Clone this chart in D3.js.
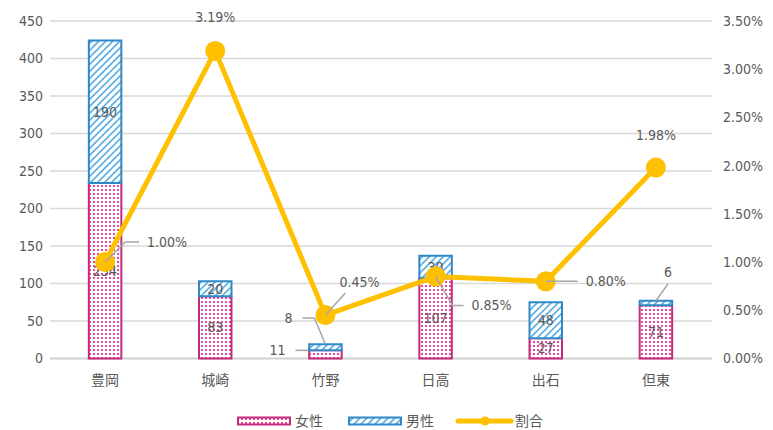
<!DOCTYPE html>
<html>
<head>
<meta charset="utf-8">
<script src="https://cdn.jsdelivr.net/npm/d3@7"></script>
<style>
  body { margin: 0; background: #fff; }
  text { font-family: "DejaVu Sans Condensed", "Noto Sans CJK JP", sans-serif; fill: #595959; }
</style>
</head>
<body>
<div id="chart"></div>
<script>
// data
var categories = ["豊岡", "城崎", "竹野", "日高", "出石", "但東"];
var female = [234, 83, 11, 107, 27, 71];
var male = [190, 20, 8, 30, 48, 6];
var ratio = [0.0100, 0.0319, 0.0045, 0.0085, 0.0080, 0.0198];
var leftTicks = [0, 50, 100, 150, 200, 250, 300, 350, 400, 450];
var rightTicks = [0, 0.005, 0.01, 0.015, 0.02, 0.025, 0.03, 0.035];

var svgWidth = 773;
var svgHeight = 430;

var svg = d3.select("#chart")
  .append("svg")
  .attr("width", svgWidth)
  .attr("height", svgHeight);

// patterns
var defs = svg.append("defs");
var dots = defs.append("pattern")
  .attr("id", "dots")
  .attr("patternUnits", "userSpaceOnUse")
  .attr("width", 4).attr("height", 4);
dots.append("rect").attr("width", 4).attr("height", 4).attr("fill", "#fff");
dots.append("rect").attr("x", 1).attr("y", 1).attr("width", 2).attr("height", 2).attr("fill", "#E54B9E");

var hatch = defs.append("pattern")
  .attr("id", "hatch")
  .attr("patternUnits", "userSpaceOnUse")
  .attr("width", 7).attr("height", 7);
hatch.append("rect").attr("width", 7).attr("height", 7).attr("fill", "#fff");
hatch.append("path")
  .attr("d", "M0,7 L7,0 M-1,1 L1,-1 M6,8 L8,6")
  .attr("stroke", "#5DAFE3")
  .attr("stroke-width", 1.6);

// scales
var x = d3.scaleBand().domain(categories).range([50, 711]);
var yLeft = d3.scaleLinear().domain([0, 450]).range([358.5, 21]);
var yRight = d3.scaleLinear().domain([0, 0.035]).range([358.5, 21]);
var barW = x.bandwidth() * 0.313;
var cx = function(c) { return x(c) + x.bandwidth() / 2; };

// gridlines
svg.append("g")
  .selectAll("line")
  .data(leftTicks.slice(1))
  .enter()
  .append("line")
  .attr("x1", 50).attr("x2", 712)
  .attr("y1", d => yLeft(d)).attr("y2", d => yLeft(d))
  .attr("stroke", "#d9d9d9")
  .attr("stroke-width", 1.5);

// axes
var leftAxis = d3.axisLeft(yLeft).tickValues(leftTicks).tickSize(0).tickPadding(0);
svg.append("g")
  .attr("transform", "translate(43,0)")
  .call(leftAxis)
  .call(g => g.select(".domain").remove())
  .selectAll("text")
  .style("font-size", "14px")
  .attr("fill", "#595959");

var rightAxis = d3.axisRight(yRight).tickValues(rightTicks).tickSize(0).tickPadding(0)
  .tickFormat(d3.format(".2%"));
svg.append("g")
  .attr("transform", "translate(723,0)")
  .call(rightAxis)
  .call(g => g.select(".domain").remove())
  .selectAll("text")
  .style("font-size", "14px")
  .attr("fill", "#595959");

svg.append("line")
  .attr("x1", 50).attr("x2", 712)
  .attr("y1", yLeft(0)).attr("y2", yLeft(0))
  .attr("stroke", "#d0d0d0")
  .attr("stroke-width", 2);

var bottomAxis = d3.axisBottom(x).tickSize(0).tickPadding(0);
svg.append("g")
  .attr("transform", "translate(0,375)")
  .call(bottomAxis)
  .call(g => g.select(".domain").remove())
  .selectAll("text")
  .style("font-size", "14px")
  .attr("fill", "#595959");

// bars
var barGroup = svg.append("g");
barGroup.selectAll(".female")
  .data(categories)
  .enter()
  .append("rect")
  .attr("x", d => cx(d) - barW / 2 + 1)
  .attr("y", (d, i) => yLeft(female[i]))
  .attr("width", barW - 2)
  .attr("height", (d, i) => yLeft(0) - yLeft(female[i]))
  .attr("fill", "url(#dots)")
  .attr("stroke", "#C42B7C")
  .attr("stroke-width", 2);

barGroup.selectAll(".male")
  .data(categories)
  .enter()
  .append("rect")
  .attr("x", d => cx(d) - barW / 2 + 1)
  .attr("y", (d, i) => yLeft(female[i] + male[i]))
  .attr("width", barW - 2)
  .attr("height", (d, i) => yLeft(female[i]) - yLeft(female[i] + male[i]))
  .attr("fill", "url(#hatch)")
  .attr("stroke", "#2E89C6")
  .attr("stroke-width", 2);

// bar labels (small ones are pushed out with leader lines)
var labelFont = "14px";
var leader = svg.append("g").attr("stroke", "#a6a6a6").attr("stroke-width", 1.5).attr("fill", "none");

categories.forEach(function(c, i) {
  var fMid = (yLeft(0) + yLeft(female[i])) / 2;
  var mMid = (yLeft(female[i]) + yLeft(female[i] + male[i])) / 2;
  var top = yLeft(female[i] + male[i]);
  var fx = cx(c), fy = fMid, mx = cx(c), my = mMid;
  if (c === "竹野") {
    fx = cx(c) - 48; fy = fMid - 4;
    leader.append("path").attr("d", `M${fx + 18},${fy} H${cx(c) - barW / 2}`);
    mx = cx(c) - 37; my = 318;
    leader.append("path").attr("d", `M${mx + 14},${my} H${mx + 26} L${cx(c)},${top}`);
  }
  if (c === "但東") {
    mx = cx(c) + 12; my = 272;
    leader.append("path").attr("d", `M${mx},${my + 12} L${cx(c)},${top}`);
  }
  svg.append("text")
    .attr("x", fx).attr("y", fy)
    .attr("dy", "0.35em")
    .attr("text-anchor", "middle")
    .style("font-size", labelFont)
    .text(female[i]);
  svg.append("text")
    .attr("x", mx).attr("y", my)
    .attr("dy", "0.35em")
    .attr("text-anchor", "middle")
    .style("font-size", labelFont)
    .text(male[i]);
});

// ratio line
var line = d3.line()
  .x((d, i) => cx(categories[i]))
  .y(d => yRight(d));

svg.append("path")
  .datum(ratio)
  .attr("d", line)
  .attr("fill", "none")
  .attr("stroke", "#FFC000")
  .attr("stroke-width", 5)
  .attr("stroke-linejoin", "round");

svg.append("g")
  .selectAll("circle")
  .data(ratio)
  .enter()
  .append("circle")
  .attr("cx", (d, i) => cx(categories[i]))
  .attr("cy", d => yRight(d))
  .attr("r", 10)
  .attr("fill", "#FFC000");

// ratio labels
var pct = d3.format(".2%");
var ratioLabelPos = [
  { dx: 42, dy: -20, anchor: "start" },
  { dx: 0, dy: -34, anchor: "middle" },
  { dx: 14, dy: -33, anchor: "start" },
  { dx: 36, dy: 29, anchor: "start" },
  { dx: 40, dy: 0, anchor: "start" },
  { dx: 0, dy: -32, anchor: "middle" }
];
ratio.forEach(function(v, i) {
  var px = cx(categories[i]), py = yRight(v), p = ratioLabelPos[i];
  if (i === 0) leader.append("path").attr("d", `M${px},${py} L${px + 20},${py + p.dy} H${px + p.dx - 8}`);
  if (i === 2) leader.append("path").attr("d", `M${px},${py} L${px + p.dx + 6},${py + p.dy + 11}`);
  if (i === 3) leader.append("path").attr("d", `M${px},${py} L${px + 17},${py + p.dy} H${px + p.dx - 8}`);
  if (i === 4) leader.append("path").attr("d", `M${px},${py} H${px + p.dx - 8}`);
  svg.append("text")
    .attr("x", px + p.dx).attr("y", py + p.dy)
    .attr("dy", "0.35em")
    .attr("text-anchor", p.anchor)
    .style("font-size", labelFont)
    .text(pct(v));
});
leader.raise();

// legend
var legend = svg.append("g").attr("transform", "translate(0,421)");
legend.append("rect").attr("x", 238).attr("y", -3.5).attr("width", 52).attr("height", 7)
  .attr("fill", "url(#dots)").attr("stroke", "#C42B7C").attr("stroke-width", 2);
legend.append("text").attr("x", 295).attr("dy", "0.35em").style("font-size", "14px").text("女性");
legend.append("rect").attr("x", 349).attr("y", -3.5).attr("width", 52).attr("height", 7)
  .attr("fill", "url(#hatch)").attr("stroke", "#2E89C6").attr("stroke-width", 2);
legend.append("text").attr("x", 406).attr("dy", "0.35em").style("font-size", "14px").text("男性");
legend.append("line").attr("x1", 458).attr("x2", 511).attr("stroke", "#FFC000").attr("stroke-width", 5).attr("stroke-linecap", "round");
legend.append("circle").attr("cx", 485).attr("r", 4.5).attr("fill", "#FFC000");
legend.append("text").attr("x", 515).attr("dy", "0.35em").style("font-size", "14px").text("割合");
</script>
</body>
</html>
